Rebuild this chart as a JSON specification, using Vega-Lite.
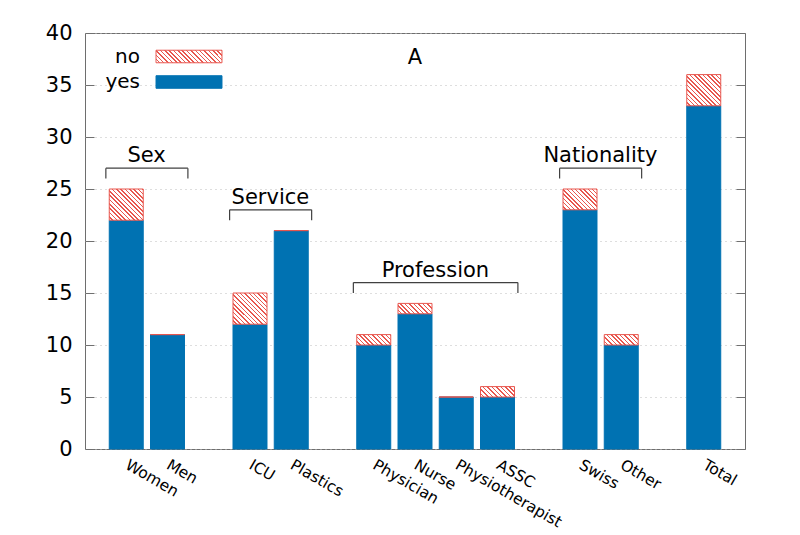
{
  "$schema": "https://vega.github.io/schema/vega-lite/v6.json",
  "width": 660,
  "height": 416,
  "autosize": {"type": "none"},
  "padding": {"left": 85, "top": 33, "right": 55, "bottom": 86},
  "title": {"text": "A", "fontSize": 21, "fontWeight": "normal", "font": "DejaVu Sans", "color": "#000000", "offset": -46},
  "datasets": {
    "answers": [
      {"group": "Women", "answer": "yes", "count": 22},
      {"group": "Men", "answer": "yes", "count": 11},
      {"group": "ICU", "answer": "yes", "count": 12},
      {"group": "Plastics", "answer": "yes", "count": 21},
      {"group": "Physician", "answer": "yes", "count": 10},
      {"group": "Nurse", "answer": "yes", "count": 13},
      {"group": "Physiotherapist", "answer": "yes", "count": 5},
      {"group": "ASSC", "answer": "yes", "count": 5},
      {"group": "Swiss", "answer": "yes", "count": 23},
      {"group": "Other", "answer": "yes", "count": 10},
      {"group": "Total", "answer": "yes", "count": 33},
      {"group": "Women", "answer": "no", "count": 3},
      {"group": "Men", "answer": "no", "count": 0},
      {"group": "ICU", "answer": "no", "count": 3},
      {"group": "Plastics", "answer": "no", "count": 0},
      {"group": "Physician", "answer": "no", "count": 1},
      {"group": "Nurse", "answer": "no", "count": 1},
      {"group": "Physiotherapist", "answer": "no", "count": 0},
      {"group": "ASSC", "answer": "no", "count": 1},
      {"group": "Swiss", "answer": "no", "count": 2},
      {"group": "Other", "answer": "no", "count": 1},
      {"group": "Total", "answer": "no", "count": 3}
    ],
    "brackets": [
      {"label": "Sex", "from": "Women", "to": "Men", "mid": "Women", "level": 27, "low": 26},
      {"label": "Service", "from": "ICU", "to": "Plastics", "mid": "ICU", "level": 23, "low": 22},
      {"label": "Profession", "from": "Physician", "to": "ASSC", "mid": "Nurse", "level": 16, "low": 15},
      {"label": "Nationality", "from": "Swiss", "to": "Other", "mid": "Swiss", "level": 27, "low": 26}
    ]
  },
  "layer": [
    {
      "data": {"name": "answers"},
      "mark": {"type": "bar", "strokeWidth": 1},
      "encoding": {
        "x": {
          "field": "group",
          "type": "nominal",
          "title": null,
          "scale": {
            "domain": ["Women", "Men", " ", "ICU", "Plastics", "  ", "Physician", "Nurse", "Physiotherapist", "ASSC", "   ", "Swiss", "Other", "    ", "Total"],
            "paddingInner": 0.176,
            "paddingOuter": 0.588
          },
          "axis": {
            "title": null,
            "labelAngle": 30,
            "labelAlign": "left",
            "labelBaseline": "top",
            "labelPadding": 8,
            "labelOffset": 4,
            "labelFontSize": 15.5,
            "labelFont": "DejaVu Sans",
            "labelColor": "#000000",
            "labelOverlap": false,
            "labelBound": false,
            "ticks": false,
            "domain": false,
            "grid": false
          }
        },
        "y": {
          "field": "count",
          "type": "quantitative",
          "scale": {"domain": [0, 40]},
          "axis": {
            "title": null,
            "values": [0, 5, 10, 15, 20, 25, 30, 35, 40],
            "grid": true,
            "gridColor": "#bdbdbd",
            "gridDash": [1, 4],
            "gridWidth": 1,
            "domain": false,
            "tickSize": -9,
            "tickColor": "#707070",
            "labelPadding": 22,
            "labelFontSize": 21,
            "labelFont": "DejaVu Sans",
            "labelColor": "#000000"
          }
        },
        "order": {"field": "answer", "sort": "descending"},
        "stroke": {
          "field": "answer",
          "type": "nominal",
          "scale": {"domain": ["no", "yes"], "range": ["#e8574f", "#0072b2"]},
          "legend": {
            "title": null,
            "orient": "none",
            "legendX": 94,
            "legendY": 13.5,
            "symbolType": "M-5,-0.95H5V0.95H-5Z",
            "symbolSize": 174,
            "symbolStrokeWidth": 1,
            "labelFontSize": 20,
            "labelFont": "DejaVu Sans",
            "labelColor": "#000000",
            "labelAlign": "right",
            "labelOffset": -59,
            "rowPadding": 5.5
          }
        },
        "fill": {
          "field": "answer",
          "type": "nominal",
          "scale": {
            "domain": ["no", "yes"],
            "range": [
              {"expr": "{gradient: 'linear', x1: 0, y1: 1, x2: 1.148, y2: 0.7825, stops: [{offset: 0, color: '#ffffff'}, {offset: 0.0361, color: '#ffffff'}, {offset: 0.0361, color: '#e8574f'}, {offset: 0.0556, color: '#e8574f'}, {offset: 0.0556, color: '#ffffff'}, {offset: 0.0917, color: '#ffffff'}, {offset: 0.0917, color: '#e8574f'}, {offset: 0.1111, color: '#e8574f'}, {offset: 0.1111, color: '#ffffff'}, {offset: 0.1472, color: '#ffffff'}, {offset: 0.1472, color: '#e8574f'}, {offset: 0.1667, color: '#e8574f'}, {offset: 0.1667, color: '#ffffff'}, {offset: 0.2028, color: '#ffffff'}, {offset: 0.2028, color: '#e8574f'}, {offset: 0.2222, color: '#e8574f'}, {offset: 0.2222, color: '#ffffff'}, {offset: 0.2583, color: '#ffffff'}, {offset: 0.2583, color: '#e8574f'}, {offset: 0.2778, color: '#e8574f'}, {offset: 0.2778, color: '#ffffff'}, {offset: 0.3139, color: '#ffffff'}, {offset: 0.3139, color: '#e8574f'}, {offset: 0.3333, color: '#e8574f'}, {offset: 0.3333, color: '#ffffff'}, {offset: 0.3694, color: '#ffffff'}, {offset: 0.3694, color: '#e8574f'}, {offset: 0.3889, color: '#e8574f'}, {offset: 0.3889, color: '#ffffff'}, {offset: 0.425, color: '#ffffff'}, {offset: 0.425, color: '#e8574f'}, {offset: 0.4444, color: '#e8574f'}, {offset: 0.4444, color: '#ffffff'}, {offset: 0.4806, color: '#ffffff'}, {offset: 0.4806, color: '#e8574f'}, {offset: 0.5, color: '#e8574f'}, {offset: 0.5, color: '#ffffff'}, {offset: 0.5361, color: '#ffffff'}, {offset: 0.5361, color: '#e8574f'}, {offset: 0.5556, color: '#e8574f'}, {offset: 0.5556, color: '#ffffff'}, {offset: 0.5917, color: '#ffffff'}, {offset: 0.5917, color: '#e8574f'}, {offset: 0.6111, color: '#e8574f'}, {offset: 0.6111, color: '#ffffff'}, {offset: 0.6472, color: '#ffffff'}, {offset: 0.6472, color: '#e8574f'}, {offset: 0.6667, color: '#e8574f'}, {offset: 0.6667, color: '#ffffff'}, {offset: 0.7028, color: '#ffffff'}, {offset: 0.7028, color: '#e8574f'}, {offset: 0.7222, color: '#e8574f'}, {offset: 0.7222, color: '#ffffff'}, {offset: 0.7583, color: '#ffffff'}, {offset: 0.7583, color: '#e8574f'}, {offset: 0.7778, color: '#e8574f'}, {offset: 0.7778, color: '#ffffff'}, {offset: 0.8139, color: '#ffffff'}, {offset: 0.8139, color: '#e8574f'}, {offset: 0.8333, color: '#e8574f'}, {offset: 0.8333, color: '#ffffff'}, {offset: 0.8694, color: '#ffffff'}, {offset: 0.8694, color: '#e8574f'}, {offset: 0.8889, color: '#e8574f'}, {offset: 0.8889, color: '#ffffff'}, {offset: 0.925, color: '#ffffff'}, {offset: 0.925, color: '#e8574f'}, {offset: 0.9444, color: '#e8574f'}, {offset: 0.9444, color: '#ffffff'}, {offset: 0.9806, color: '#ffffff'}, {offset: 0.9806, color: '#e8574f'}, {offset: 1, color: '#e8574f'}]}"},
              "#0072b2"
            ]
          },
          "legend": {
            "title": null,
            "orient": "none",
            "legendX": 94,
            "legendY": 13.5,
            "symbolType": "M-5,-0.95H5V0.95H-5Z",
            "symbolSize": 174,
            "symbolStrokeWidth": 1,
            "labelFontSize": 20,
            "labelFont": "DejaVu Sans",
            "labelColor": "#000000",
            "labelAlign": "right",
            "labelOffset": -59,
            "rowPadding": 5.5
          },
          "condition": [
            {"test": "datum.answer === 'no' && datum.count === 3", "value": {"gradient": "linear", "x1": 0, "y1": 1, "x2": 1.04, "y2": 0.045, "stops": [
              {"offset": 0, "color": "#ffffff"}, {"offset": 0.0433, "color": "#ffffff"}, {"offset": 0.0433, "color": "#e8574f"}, {"offset": 0.0667, "color": "#e8574f"},
              {"offset": 0.0667, "color": "#ffffff"}, {"offset": 0.11, "color": "#ffffff"}, {"offset": 0.11, "color": "#e8574f"}, {"offset": 0.1333, "color": "#e8574f"},
              {"offset": 0.1333, "color": "#ffffff"}, {"offset": 0.1767, "color": "#ffffff"}, {"offset": 0.1767, "color": "#e8574f"}, {"offset": 0.2, "color": "#e8574f"},
              {"offset": 0.2, "color": "#ffffff"}, {"offset": 0.2433, "color": "#ffffff"}, {"offset": 0.2433, "color": "#e8574f"}, {"offset": 0.2667, "color": "#e8574f"},
              {"offset": 0.2667, "color": "#ffffff"}, {"offset": 0.31, "color": "#ffffff"}, {"offset": 0.31, "color": "#e8574f"}, {"offset": 0.3333, "color": "#e8574f"},
              {"offset": 0.3333, "color": "#ffffff"}, {"offset": 0.3767, "color": "#ffffff"}, {"offset": 0.3767, "color": "#e8574f"}, {"offset": 0.4, "color": "#e8574f"},
              {"offset": 0.4, "color": "#ffffff"}, {"offset": 0.4433, "color": "#ffffff"}, {"offset": 0.4433, "color": "#e8574f"}, {"offset": 0.4667, "color": "#e8574f"},
              {"offset": 0.4667, "color": "#ffffff"}, {"offset": 0.51, "color": "#ffffff"}, {"offset": 0.51, "color": "#e8574f"}, {"offset": 0.5333, "color": "#e8574f"},
              {"offset": 0.5333, "color": "#ffffff"}, {"offset": 0.5767, "color": "#ffffff"}, {"offset": 0.5767, "color": "#e8574f"}, {"offset": 0.6, "color": "#e8574f"},
              {"offset": 0.6, "color": "#ffffff"}, {"offset": 0.6433, "color": "#ffffff"}, {"offset": 0.6433, "color": "#e8574f"}, {"offset": 0.6667, "color": "#e8574f"},
              {"offset": 0.6667, "color": "#ffffff"}, {"offset": 0.71, "color": "#ffffff"}, {"offset": 0.71, "color": "#e8574f"}, {"offset": 0.7333, "color": "#e8574f"},
              {"offset": 0.7333, "color": "#ffffff"}, {"offset": 0.7767, "color": "#ffffff"}, {"offset": 0.7767, "color": "#e8574f"}, {"offset": 0.8, "color": "#e8574f"},
              {"offset": 0.8, "color": "#ffffff"}, {"offset": 0.8433, "color": "#ffffff"}, {"offset": 0.8433, "color": "#e8574f"}, {"offset": 0.8667, "color": "#e8574f"},
              {"offset": 0.8667, "color": "#ffffff"}, {"offset": 0.91, "color": "#ffffff"}, {"offset": 0.91, "color": "#e8574f"}, {"offset": 0.9333, "color": "#e8574f"},
              {"offset": 0.9333, "color": "#ffffff"}, {"offset": 0.9767, "color": "#ffffff"}, {"offset": 0.9767, "color": "#e8574f"}, {"offset": 1, "color": "#e8574f"}
            ]}},
            {"test": "datum.answer === 'no' && datum.count === 2", "value": {"gradient": "linear", "x1": 0, "y1": 1, "x2": 1.173, "y2": 0.282, "stops": [
              {"offset": 0, "color": "#ffffff"}, {"offset": 0.05, "color": "#ffffff"}, {"offset": 0.05, "color": "#e8574f"}, {"offset": 0.0769, "color": "#e8574f"},
              {"offset": 0.0769, "color": "#ffffff"}, {"offset": 0.1269, "color": "#ffffff"}, {"offset": 0.1269, "color": "#e8574f"}, {"offset": 0.1538, "color": "#e8574f"},
              {"offset": 0.1538, "color": "#ffffff"}, {"offset": 0.2038, "color": "#ffffff"}, {"offset": 0.2038, "color": "#e8574f"}, {"offset": 0.2308, "color": "#e8574f"},
              {"offset": 0.2308, "color": "#ffffff"}, {"offset": 0.2808, "color": "#ffffff"}, {"offset": 0.2808, "color": "#e8574f"}, {"offset": 0.3077, "color": "#e8574f"},
              {"offset": 0.3077, "color": "#ffffff"}, {"offset": 0.3577, "color": "#ffffff"}, {"offset": 0.3577, "color": "#e8574f"}, {"offset": 0.3846, "color": "#e8574f"},
              {"offset": 0.3846, "color": "#ffffff"}, {"offset": 0.4346, "color": "#ffffff"}, {"offset": 0.4346, "color": "#e8574f"}, {"offset": 0.4615, "color": "#e8574f"},
              {"offset": 0.4615, "color": "#ffffff"}, {"offset": 0.5115, "color": "#ffffff"}, {"offset": 0.5115, "color": "#e8574f"}, {"offset": 0.5385, "color": "#e8574f"},
              {"offset": 0.5385, "color": "#ffffff"}, {"offset": 0.5885, "color": "#ffffff"}, {"offset": 0.5885, "color": "#e8574f"}, {"offset": 0.6154, "color": "#e8574f"},
              {"offset": 0.6154, "color": "#ffffff"}, {"offset": 0.6654, "color": "#ffffff"}, {"offset": 0.6654, "color": "#e8574f"}, {"offset": 0.6923, "color": "#e8574f"},
              {"offset": 0.6923, "color": "#ffffff"}, {"offset": 0.7423, "color": "#ffffff"}, {"offset": 0.7423, "color": "#e8574f"}, {"offset": 0.7692, "color": "#e8574f"},
              {"offset": 0.7692, "color": "#ffffff"}, {"offset": 0.8192, "color": "#ffffff"}, {"offset": 0.8192, "color": "#e8574f"}, {"offset": 0.8462, "color": "#e8574f"},
              {"offset": 0.8462, "color": "#ffffff"}, {"offset": 0.8962, "color": "#ffffff"}, {"offset": 0.8962, "color": "#e8574f"}, {"offset": 0.9231, "color": "#e8574f"},
              {"offset": 0.9231, "color": "#ffffff"}, {"offset": 0.9731, "color": "#ffffff"}, {"offset": 0.9731, "color": "#e8574f"}, {"offset": 1, "color": "#e8574f"}
            ]}},
            {"test": "datum.answer === 'no' && datum.count === 1", "value": {"gradient": "linear", "x1": 0, "y1": 1, "x2": 1.194, "y2": 0.635, "stops": [
              {"offset": 0, "color": "#ffffff"}, {"offset": 0.065, "color": "#ffffff"}, {"offset": 0.065, "color": "#e8574f"}, {"offset": 0.1, "color": "#e8574f"},
              {"offset": 0.1, "color": "#ffffff"}, {"offset": 0.165, "color": "#ffffff"}, {"offset": 0.165, "color": "#e8574f"}, {"offset": 0.2, "color": "#e8574f"},
              {"offset": 0.2, "color": "#ffffff"}, {"offset": 0.265, "color": "#ffffff"}, {"offset": 0.265, "color": "#e8574f"}, {"offset": 0.3, "color": "#e8574f"},
              {"offset": 0.3, "color": "#ffffff"}, {"offset": 0.365, "color": "#ffffff"}, {"offset": 0.365, "color": "#e8574f"}, {"offset": 0.4, "color": "#e8574f"},
              {"offset": 0.4, "color": "#ffffff"}, {"offset": 0.465, "color": "#ffffff"}, {"offset": 0.465, "color": "#e8574f"}, {"offset": 0.5, "color": "#e8574f"},
              {"offset": 0.5, "color": "#ffffff"}, {"offset": 0.565, "color": "#ffffff"}, {"offset": 0.565, "color": "#e8574f"}, {"offset": 0.6, "color": "#e8574f"},
              {"offset": 0.6, "color": "#ffffff"}, {"offset": 0.665, "color": "#ffffff"}, {"offset": 0.665, "color": "#e8574f"}, {"offset": 0.7, "color": "#e8574f"},
              {"offset": 0.7, "color": "#ffffff"}, {"offset": 0.765, "color": "#ffffff"}, {"offset": 0.765, "color": "#e8574f"}, {"offset": 0.8, "color": "#e8574f"},
              {"offset": 0.8, "color": "#ffffff"}, {"offset": 0.865, "color": "#ffffff"}, {"offset": 0.865, "color": "#e8574f"}, {"offset": 0.9, "color": "#e8574f"},
              {"offset": 0.9, "color": "#ffffff"}, {"offset": 0.965, "color": "#ffffff"}, {"offset": 0.965, "color": "#e8574f"}, {"offset": 1, "color": "#e8574f"}
            ]}},
            {"test": "datum.answer === 'no'", "value": "#ffffff"}
          ]
        }
      }
    },
    {
      "data": {"name": "brackets"},
      "mark": {"type": "rule", "color": "#404040", "strokeWidth": 1.2},
      "encoding": {
        "x": {"field": "from", "type": "nominal", "bandPosition": -0.1, "title": null},
        "x2": {"field": "to", "bandPosition": 1.1},
        "y": {
          "field": "level",
          "type": "quantitative",
          "axis": {
            "orient": "right",
            "title": null,
            "labels": false,
            "grid": false,
            "domain": false,
            "values": [0, 5, 10, 15, 20, 25, 30, 35, 40],
            "tickSize": -9,
            "tickColor": "#707070"
          }
        }
      }
    },
    {
      "data": {"name": "brackets"},
      "mark": {"type": "rule", "color": "#404040", "strokeWidth": 1.2},
      "encoding": {
        "x": {"field": "from", "type": "nominal", "bandPosition": -0.1, "title": null},
        "y": {"field": "level", "type": "quantitative", "axis": null},
        "y2": {"field": "low"}
      }
    },
    {
      "data": {"name": "brackets"},
      "mark": {"type": "rule", "color": "#404040", "strokeWidth": 1.2},
      "encoding": {
        "x": {"field": "to", "type": "nominal", "bandPosition": 1.1, "title": null},
        "y": {"field": "level", "type": "quantitative", "axis": null},
        "y2": {"field": "low"}
      }
    },
    {
      "data": {"name": "brackets"},
      "mark": {"type": "text", "fontSize": 21, "font": "DejaVu Sans", "color": "#000000", "baseline": "alphabetic", "align": "center", "dy": -6},
      "encoding": {
        "x": {"field": "mid", "type": "nominal", "bandPosition": 1.1, "title": null},
        "y": {"field": "level", "type": "quantitative", "axis": null},
        "text": {"field": "label"}
      }
    }
  ],
  "resolve": {"axis": {"y": "independent"}},
  "config": {
    "view": {"stroke": "#6e6e6e", "strokeWidth": 1},
    "font": "DejaVu Sans"
  }
}
